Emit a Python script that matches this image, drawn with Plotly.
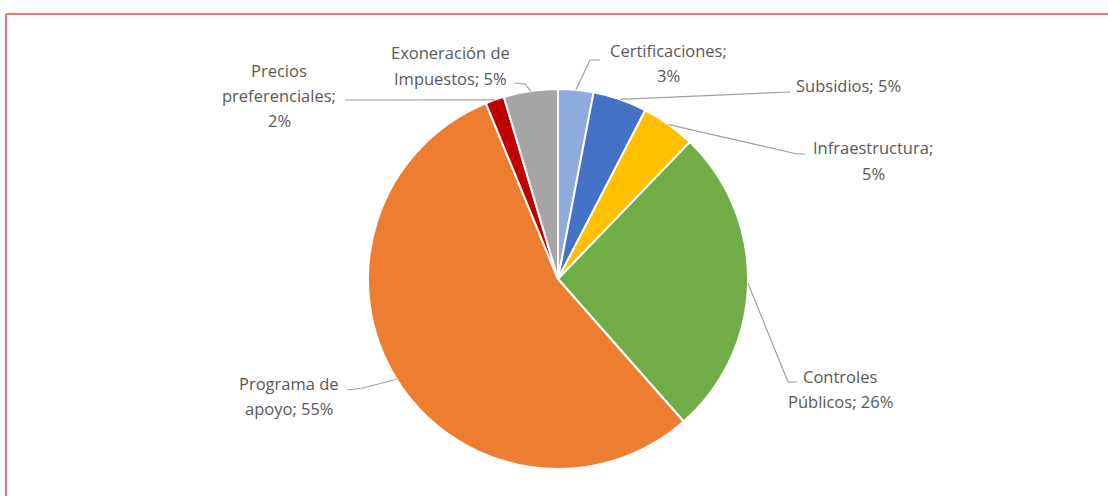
import math
import plotly.graph_objects as go

# ---- data ----
categories = ["Certificaciones", "Subsidios", "Infraestructura", "Controles Públicos",
              "Programa de apoyo", "Precios preferenciales", "Exoneración de Impuestos"]
values = [3.0, 4.6, 4.6, 26.3, 55.3, 1.6, 4.6]
colors = ["#8FAADC", "#4472C4", "#FFC000", "#70AD47", "#ED7D31", "#C00000", "#A5A5A5"]

# label lines (text split as in the original)
label_lines = {
    "Certificaciones": ["Certificaciones;", "{p}%"],
    "Subsidios": ["Subsidios; {p}%"],
    "Infraestructura": ["Infraestructura;", "{p}%"],
    "Controles Públicos": ["Controles", "Públicos; {p}%"],
    "Programa de apoyo": ["Programa de", "apoyo; {p}%"],
    "Precios preferenciales": ["Precios", "preferenciales;", "{p}%"],
    "Exoneración de Impuestos": ["Exoneración de", "Impuestos; {p}%"],
}

# ---- layout (pixels) ----
W, H = 1108, 496
CX, CY, R = 558, 279, 190

# label placement: (center x, y of first line center), line gap
label_pos = {
    "Certificaciones": (668, 50),
    "Subsidios": (848, 85),
    "Infraestructura": (873, 148),
    "Controles Públicos": (840, 376),
    "Programa de apoyo": (289, 383),
    "Precios preferenciales": (279, 70),
    "Exoneración de Impuestos": (450, 53),
}
LINE_GAP = 25.5

# leader line bend points (label side), anchor computed from slice mid-angle
leader_pts = {
    "Certificaciones": [(600, 60), (590, 60)],
    "Subsidios": [(790, 92)],
    "Infraestructura": [(805, 154), (797, 154)],
    "Controles Públicos": [(797, 382), (788, 382)],
    "Programa de apoyo": [(347, 390), (363, 388)],
    "Precios preferenciales": [(345, 100)],
    "Exoneración de Impuestos": [(515, 83), (525, 84)],
}


def px(x):
    return x / W


def py(y):
    return 1 - y / H


fig = go.Figure(go.Pie(
    labels=categories,
    values=values,
    sort=False,
    direction="clockwise",
    rotation=0,
    marker=dict(colors=colors, line=dict(color="white", width=2)),
    textinfo="none",
    hoverinfo="label+percent",
    showlegend=False,
    domain=dict(x=[px(CX - R), px(CX + R)], y=[py(CY + R), py(CY - R)]),
))

total = sum(values)
annotations = []
shapes = []
cum = 0.0
for cat, v in zip(categories, values):
    mid = (cum + v / 2) / total * 2 * math.pi
    cum += v
    ax = CX + R * math.sin(mid)
    ay = CY - R * math.cos(mid)
    pct = round(v / total * 100)
    lx, ly = label_pos[cat]
    for i, line in enumerate(label_lines[cat]):
        annotations.append(dict(
            text=line.format(p=pct), x=px(lx), y=py(ly + i * LINE_GAP),
            xref="paper", yref="paper", xanchor="center", yanchor="middle",
            showarrow=False, font=dict(family="Open Sans", size=16.5, color="#595959"),
        ))
    pts = leader_pts[cat] + [(ax, ay)]
    path = "M " + " L ".join(f"{px(x):.5f},{py(y):.5f}" for x, y in pts)
    shapes.append(dict(type="path", path=path, xref="paper", yref="paper",
                       line=dict(color="#A0A0A0", width=1.2)))

# outer frame (top and left edges visible)
shapes.append(dict(type="line", xref="paper", yref="paper",
                   x0=px(6), y0=py(14), x1=1.0, y1=py(14),
                   line=dict(color="#F07474", width=2)))
shapes.append(dict(type="line", xref="paper", yref="paper",
                   x0=px(6), y0=py(14), x1=px(6), y1=0.0,
                   line=dict(color="#F07474", width=2)))

fig.update_layout(
    width=W, height=H,
    margin=dict(l=0, r=0, t=0, b=0),
    paper_bgcolor="white", plot_bgcolor="white",
    annotations=annotations, shapes=shapes,
)

fig.write_html(
    "out.html",
    config={"displayModeBar": False},
    post_script="document.body.style.margin='0';document.body.style.overflow='hidden';",
)
